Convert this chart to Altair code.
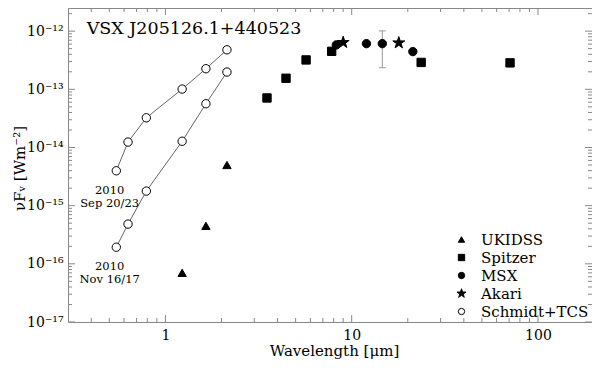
import altair as alt
import pandas as pd

# ---------------- data ----------------
surveys = ["UKIDSS", "Spitzer", "MSX", "Akari", "Schmidt+TCS"]

schmidt_wl = [0.545, 0.63, 0.79, 1.23, 1.65, 2.14]
schmidt_sep_flux = [3.98e-15, 1.24e-14, 3.24e-14, 1.01e-13, 2.26e-13, 4.78e-13]
schmidt_nov_flux = [1.93e-16, 4.82e-16, 1.78e-15, 1.28e-14, 5.65e-14, 1.98e-13]

ukidss_wl = [1.23, 1.65, 2.14]
ukidss_flux = [7.0e-17, 4.5e-16, 5.0e-15]

spitzer_wl = [3.51, 4.44, 5.69, 7.81, 23.6, 70.8]
spitzer_flux = [7.1e-14, 1.55e-13, 3.2e-13, 4.5e-13, 2.9e-13, 2.85e-13]

msx_wl = [8.27, 12.0, 14.6, 21.3]
msx_flux = [5.8e-13, 6.1e-13, 6.1e-13, 4.45e-13]

akari_wl = [9.0, 17.9]
akari_flux = [6.4e-13, 6.3e-13]

err_wl = [14.6]
err_lo = [2.35e-13]
err_hi = [1.01e-12]

title_text = ["VSX J205126.1+440523"]
title_wl = [0.378]
title_flux = [9.0e-13]

ann_text = ["2010\nSep 20/23", "2010\nNov 16/17"]
ann_wl = [0.502, 0.502]
ann_flux = [1.81e-15, 8.83e-17]

x_major_ticks = [1, 10, 100]
x_minor_ticks = [0.3, 0.4, 0.5, 0.6, 0.7, 0.8, 0.9,
                 2, 3, 4, 5, 6, 7, 8, 9,
                 20, 30, 40, 50, 60, 70, 80, 90]
y_major_ticks = [1e-17, 1e-16, 1e-15, 1e-14, 1e-13, 1e-12]
y_minor_ticks = [k * 10.0 ** e for e in range(-17, -12) for k in range(2, 10)] + [2e-12]

# ---------------- tables ----------------
rows = []
for name, wls, fl in [("UKIDSS", ukidss_wl, ukidss_flux),
                      ("Spitzer", spitzer_wl, spitzer_flux),
                      ("MSX", msx_wl, msx_flux),
                      ("Akari", akari_wl, akari_flux),
                      ("Schmidt+TCS", schmidt_wl, schmidt_sep_flux),
                      ("Schmidt+TCS", schmidt_wl, schmidt_nov_flux)]:
    for w, f in zip(wls, fl):
        rows.append({"wl": w, "flux": f, "survey": name})
points_df = pd.DataFrame(rows)

line_rows = []
for epoch, fl in [("sep", schmidt_sep_flux), ("nov", schmidt_nov_flux)]:
    for w, f in zip(schmidt_wl, fl):
        line_rows.append({"wl": w, "flux": f, "epoch": epoch})
line_df = pd.DataFrame(line_rows)

err_df = pd.DataFrame({"wl": err_wl, "lo": err_lo, "hi": err_hi})
title_df = pd.DataFrame({"wl": title_wl, "flux": title_flux, "t": title_text})
ann_df = pd.DataFrame({"wl": ann_wl, "flux": ann_flux, "t": ann_text})

W, H = 524, 314
FONT = "DejaVu Serif"
AX = "#888888"
YTITLE = "\u03bdF\u1d65 [Wm\u207b\u00b2]"

xscale = alt.Scale(type="log", domain=[0.3, 195], nice=False)
yscale = alt.Scale(type="log", domain=[1e-17, 2.5e-12], nice=False)

xaxis = alt.Axis(values=x_major_ticks, labelExpr="format(datum.value, 'd')",
                 ticks=False, tickSize=0, domain=False, grid=False,
                 labelFont=FONT, labelFontSize=14, labelColor="black", labelPadding=6,
                 titleFont=FONT, titleFontSize=15, titleFontWeight="normal",
                 titleColor="black", titleBaseline="middle", titleY=28, titleX=266)
yaxis = alt.Axis(values=y_major_ticks,
                 labelExpr="'10\u207b\u00b9' + ['\u2070','\u00b9','\u00b2','\u00b3','\u2074','\u2075','\u2076','\u2077','\u2078','\u2079'][round(-log(datum.value)/LN10) - 10]",
                 ticks=False, tickSize=0, domain=False, grid=False,
                 labelFont=FONT, labelFontSize=14, labelColor="black", labelPadding=5,
                 titleFont=FONT, titleFontSize=15, titleFontWeight="normal",
                 titleColor="black", titleBaseline="middle", titleAlign="center",
                 titleAngle=-90, titleX=-49, titleY=160)

X = alt.X("wl:Q", scale=xscale, axis=xaxis, title="Wavelength [\u03bcm]")
Y = alt.Y("flux:Q", scale=yscale, axis=yaxis, title=YTITLE)

STAR = ("M0,-1.5L0.34,-0.46L1.43,-0.46L0.55,0.18L0.88,1.21L0,0.57"
        "L-0.88,1.21L-0.55,0.18L-1.43,-0.46L-0.34,-0.46Z")

legend = alt.Legend(title=None, orient="none", legendX=386, legendY=224,
                    labelFont=FONT, labelFontSize=15, labelColor="black",
                    symbolSize=40, symbolStrokeColor="black", symbolStrokeWidth=1,
                    rowPadding=2, labelOffset=12, padding=0)

# ---------------- layers ----------------
def tick_layer(values, field, edge, length):
    df = pd.DataFrame({field: values})
    if field == "wl":
        enc = dict(x=X, y=alt.value(edge), size=alt.value(2 * length))
    else:
        enc = dict(y=Y, x=alt.value(edge), size=alt.value(2 * length))
    return alt.Chart(df).mark_tick(clip=True, color=AX, thickness=1, opacity=1).encode(**enc)

ticks = [
    tick_layer(x_major_ticks, "wl", H, 7), tick_layer(x_minor_ticks, "wl", H, 4),
    tick_layer(x_major_ticks, "wl", 0, 7), tick_layer(x_minor_ticks, "wl", 0, 4),
    tick_layer(y_major_ticks, "flux", 0, 7), tick_layer(y_minor_ticks, "flux", 0, 4),
    tick_layer(y_major_ticks, "flux", W, 7), tick_layer(y_minor_ticks, "flux", W, 4),
]

Ylo = alt.Y("lo:Q", scale=yscale, axis=yaxis, title=YTITLE)
Yhi = alt.Y("hi:Q", scale=yscale, axis=yaxis, title=YTITLE)
err_bar = alt.Chart(err_df).mark_rule(color="#999999", strokeWidth=1).encode(x=X, y=Ylo, y2="hi:Q")
err_cap_lo = alt.Chart(err_df).mark_tick(orient="horizontal", color="#999999", thickness=1,
                                         size=7, opacity=1).encode(x=X, y=Ylo)
err_cap_hi = alt.Chart(err_df).mark_tick(orient="horizontal", color="#999999", thickness=1,
                                         size=7, opacity=1).encode(x=X, y=Yhi)

lines = alt.Chart(line_df).mark_line(color="#666666", strokeWidth=1).encode(
    x=X, y=Y, detail="epoch:N")

pts = alt.Chart(points_df).mark_point(filled=True, opacity=1, size=70, strokeWidth=1).encode(
    x=X, y=Y,
    shape=alt.Shape("survey:N", scale=alt.Scale(domain=surveys,
                    range=["triangle-up", "square", "circle", STAR, "circle"]), legend=legend),
    fill=alt.Fill("survey:N", scale=alt.Scale(domain=surveys,
                  range=["black", "black", "black", "black", "white"]), legend=legend),
    stroke=alt.Stroke("survey:N", scale=alt.Scale(domain=surveys,
                      range=["black", "black", "black", "black", "black"]), legend=legend),
)

title_mark = alt.Chart(title_df).mark_text(font=FONT, fontSize=17.5, align="left",
                                           baseline="alphabetic", color="black").encode(
    x=X, y=Y, text="t:N")
ann_mark = alt.Chart(ann_df).mark_text(font=FONT, fontSize=11.5, align="center",
                                       baseline="middle", lineBreak="\n", lineHeight=13.5,
                                       color="black").encode(
    x=X, y=Y, text="t:N")

chart = alt.layer(*ticks, err_bar, err_cap_lo, err_cap_hi, lines, pts, title_mark, ann_mark).properties(
    width=W, height=H,
    autosize=alt.AutoSizeParams(type="none"),
    padding={"left": 60, "top": 0, "right": 0, "bottom": 38},
).configure(font=FONT).configure_view(stroke=AX, strokeWidth=1).configure_axis(
    labelFont=FONT, titleFont=FONT, titleFontWeight="normal"
).configure_legend(
    labelFont=FONT, labelFontSize=15, symbolStrokeColor="black", symbolStrokeWidth=1
).configure_text(font=FONT)

chart.save("out.html", embed_options={"renderer": "svg", "actions": False})
